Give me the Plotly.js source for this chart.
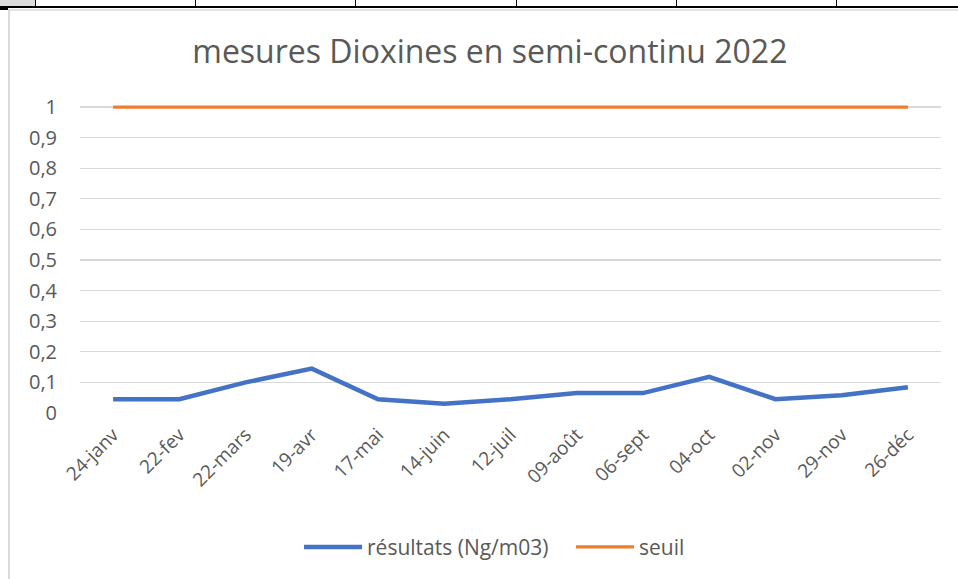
<!DOCTYPE html>
<html>
<head>
<meta charset="utf-8">
<script src="https://cdn.plot.ly/plotly-3.0.1.min.js"></script>
<style>
  html, body { margin: 0; padding: 0; background: #ffffff; }
  #wrap { position: relative; width: 958px; height: 579px; overflow: hidden; background: #ffffff; }
  #chart { position: absolute; left: 0; top: 0; width: 958px; height: 579px; }
  .deco { position: absolute; pointer-events: none; }
</style>
</head>
<body>
<div id="wrap">
  <div id="chart"></div>
  <!-- spreadsheet decorations -->
  <div class="deco" style="left:0;top:0;width:35px;height:6px;background:#dcdcdc;"></div>
  <div class="deco" style="left:0;top:6px;width:958px;height:2px;background:#000;"></div>
  <div class="deco" style="left:35px;top:0;width:1px;height:7px;background:#000;"></div>
  <div class="deco" style="left:195px;top:0;width:1px;height:7px;background:#000;"></div>
  <div class="deco" style="left:355px;top:0;width:1px;height:7px;background:#000;"></div>
  <div class="deco" style="left:516px;top:0;width:1px;height:7px;background:#000;"></div>
  <div class="deco" style="left:676px;top:0;width:1px;height:7px;background:#000;"></div>
  <div class="deco" style="left:836px;top:0;width:1px;height:7px;background:#000;"></div>
  <div class="deco" style="left:0;top:8px;width:8px;height:2px;background:#000;"></div>
  <div class="deco" style="left:8px;top:9px;width:950px;height:2px;background:#e3e3e3;"></div>
  <div class="deco" style="left:8px;top:9px;width:2px;height:570px;background:#dadada;"></div>
</div>
<script>
const categories = ["24-janv","22-fev","22-mars","19-avr","17-mai","14-juin","12-juil","09-août","06-sept","04-oct","02-nov","29-nov","26-déc"];
const resultats = [0.045,0.045,0.1,0.145,0.045,0.03,0.045,0.065,0.065,0.118,0.045,0.058,0.084];
const seuil = [1,1,1,1,1,1,1,1,1,1,1,1,1];
const yTickVals = [0,0.1,0.2,0.3,0.4,0.5,0.6,0.7,0.8,0.9,1];
const yTickText = ["0","0,1","0,2","0,3","0,4","0,5","0,6","0,7","0,8","0,9","1"];

const FONT = "'Open Sans', 'Noto Sans', sans-serif";
const GREY = "#595959";

const traces = [
  {
    x: categories, y: resultats, type: "scatter", mode: "lines",
    name: "résultats (Ng/m03)",
    line: { color: "#4472C4", width: 4.5 }
  },
  {
    x: categories, y: seuil, type: "scatter", mode: "lines",
    name: "seuil",
    line: { color: "#ED7D31", width: 3.3 }
  }
];

const layout = {
  width: 958, height: 579,
  paper_bgcolor: "rgba(0,0,0,0)",
  plot_bgcolor: "rgba(0,0,0,0)",
  margin: { l: 80, r: 17, t: 104, b: 165, pad: 0 },
  font: { family: FONT, color: GREY, size: 18 },
  separators: ", ",
  title: {
    text: "mesures Dioxines en semi-continu 2022",
    font: { family: FONT, size: 32, color: GREY },
    x: 0.476, xanchor: "center", xref: "paper",
    y: 52, yref: "container", yanchor: "middle"
  },
  xaxis: {
    type: "category",
    range: [-0.5, 12.5],
    showgrid: false, zeroline: false, showline: false,
    ticks: "", tickangle: -45,
    tickfont: { family: FONT, size: 19, color: GREY },
    ticklabelstandoff: 6,
    fixedrange: true
  },
  yaxis: {
    range: [0, 1.01],
    tickvals: yTickVals, ticktext: yTickText,
    showgrid: true, gridcolor: "#d9d9d9", gridwidth: 1.3,
    zeroline: false, showline: false, ticks: "",
    tickfont: { family: FONT, size: 20, color: GREY },
    ticklabelstandoff: 22,
    fixedrange: true
  },
  showlegend: true,
  legend: {
    orientation: "h",
    x: 0.2544, xanchor: "left",
    y: -0.43, yanchor: "middle",
    font: { family: FONT, size: 21, color: GREY },
    itemwidth: 58,
    entrywidth: 199,
    entrywidthmode: "pixels",
    tracegroupgap: 0,
    bgcolor: "rgba(0,0,0,0)"
  }
};

Plotly.newPlot("chart", traces, layout, { displayModeBar: false, staticPlot: true });
</script>
</body>
</html>
